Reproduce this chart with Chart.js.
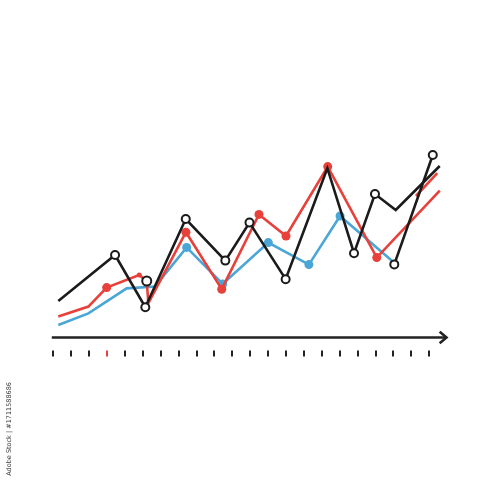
<!DOCTYPE html>
<html>
<head>
<meta charset="utf-8">
<script src="https://cdn.jsdelivr.net/npm/chart.js@4/dist/chart.umd.min.js"></script>
<style>
  html, body { margin: 0; padding: 0; background: #ffffff; }
  #wrap { width: 500px; height: 500px; }
</style>
</head>
<body>
<div id="wrap"><canvas id="chart"></canvas></div>
<script>
// Series data (x in tick units, y in chart units 0-100)
const blueX = [0.28, 1.96, 4.1, 5.68, 7.45, 9.46, 12.01, 14.28, 16.02, 18.9];
const blueY = [6.5, 12.3, 24.8, 25.7, 45.3, 27, 47.7, 36.7, 61, 38.7];

const redX = [0.28, 1.96, 2.98, 4.8, 5.22, 5.31, 7.41, 9.41, 11.49, 13.0, 15.33, 18.07, 21.59];
const redY = [10.7, 15.7, 25.2, 31.5, 28.5, 17.4, 52.9, 24.4, 61.8, 51, 85.7, 40.2, 73.7];

const blackX = [0.28, 3.45, 5.14, 7.4, 9.61, 10.96, 12.98, 15.31, 16.8, 17.97, 19.13, 21.59];
const blackY = [18.5, 41.5, 15.4, 59.5, 38.7, 57.7, 29.4, 84.9, 42.4, 72, 64, 86];

const jumpX = [19.05, 21.2];
const jumpY = [36.8, 91.5];

const redTailX = [20.26, 21.45];
const redTailY = [71, 82.4];

// Axis tick positions below the arrow
const tickValues = [0, 1, 2, 3, 4, 5, 6, 7, 8, 9, 10, 11, 12, 13, 14, 15, 16, 17, 18, 19, 20, 21];
const highlightTick = 3;

const credit = 'Adobe Stock | #1711588686';

const BLUE = '#4aa6d6';
const RED = '#e8403a';
const BLACK = '#1b1b1b';

function toPoints(xs, ys) {
    return xs.map((x, i) => ({ x: x, y: ys[i] }));
}

// which points carry a marker
const blueMarks = new Set([4, 5, 6, 7, 8]);
const redMarks = new Set([2, 3, 4, 6, 7, 8, 9, 10, 11]);
const blackMarks = new Set([1, 2, 3, 4, 5, 6, 8, 9]);

// Arrow axis + tick marks + credit text
const axisPlugin = {
    id: 'axisArrow',
    afterDraw(chart) {
        const ctx = chart.ctx;
        const xs = chart.scales.x;
        const area = chart.chartArea;
        const yLine = area.bottom - 0.5;
        const xStart = area.left - 1.5;
        const xEnd = area.right - 0.5;

        ctx.save();
        ctx.strokeStyle = '#222222';
        ctx.lineWidth = 2.5;
        ctx.beginPath();
        ctx.moveTo(xStart, yLine);
        ctx.lineTo(xEnd - 1, yLine);
        ctx.stroke();

        ctx.lineCap = 'square';
        ctx.lineJoin = 'miter';
        ctx.beginPath();
        ctx.moveTo(xEnd - 6, yLine - 5);
        ctx.lineTo(xEnd, yLine);
        ctx.lineTo(xEnd - 6, yLine + 5);
        ctx.stroke();

        tickValues.forEach(v => {
            const px = Math.round(xs.getPixelForValue(v));
            ctx.fillStyle = v === highlightTick ? RED : '#222222';
            ctx.fillRect(px - 1, yLine + 13, 2, 6);
        });

        ctx.translate(9, 382);
        ctx.rotate(-Math.PI / 2);
        ctx.fillStyle = '#3a3a3a';
        ctx.font = '6.5px "DejaVu Sans", sans-serif';
        ctx.textAlign = 'right';
        ctx.textBaseline = 'middle';
        ctx.fillText(credit, 0, 0);
        ctx.restore();
    }
};

const ctx = document.getElementById('chart').getContext('2d');

new Chart(ctx, {
    type: 'line',
    data: {
        datasets: [
            {
                label: 'black',
                data: toPoints(blackX, blackY),
                borderColor: BLACK,
                borderWidth: 2.6,
                pointRadius: c => blackMarks.has(c.dataIndex) ? 4 : 0,
                pointBackgroundColor: '#ffffff',
                pointBorderColor: BLACK,
                pointBorderWidth: 2,
                tension: 0,
                clip: false,
                order: 1
            },
            {
                label: 'jump',
                data: toPoints(jumpX, jumpY),
                borderColor: BLACK,
                borderWidth: 2.6,
                pointRadius: 4,
                pointBackgroundColor: '#ffffff',
                pointBorderColor: BLACK,
                pointBorderWidth: 2,
                tension: 0,
                clip: false,
                order: 0
            },
            {
                label: 'red',
                data: toPoints(redX, redY),
                borderColor: RED,
                borderWidth: 2.6,
                pointRadius: c => {
                    if (!redMarks.has(c.dataIndex)) return 0;
                    if (c.dataIndex === 3) return 2.5;
                    return 4.5;
                },
                pointBackgroundColor: c => c.dataIndex === 4 ? '#ffffff' : RED,
                pointBorderColor: c => c.dataIndex === 4 ? BLACK : RED,
                pointBorderWidth: c => c.dataIndex === 4 ? 2 : 0,
                tension: 0,
                clip: false,
                order: 2
            },
            {
                label: 'redTail',
                data: toPoints(redTailX, redTailY),
                borderColor: RED,
                borderWidth: 2.6,
                pointRadius: 0,
                tension: 0,
                clip: false,
                order: 2
            },
            {
                label: 'blue',
                data: toPoints(blueX, blueY),
                borderColor: BLUE,
                borderWidth: 2.6,
                pointRadius: c => blueMarks.has(c.dataIndex) ? 4.5 : 0,
                pointBackgroundColor: BLUE,
                pointBorderWidth: 0,
                tension: 0,
                clip: false,
                order: 3
            }
        ]
    },
    options: {
        responsive: true,
        maintainAspectRatio: false,
        animation: false,
        layout: {
            padding: { left: 53.3, right: 52.9, top: 138, bottom: 162 }
        },
        plugins: {
            legend: { display: false },
            tooltip: { enabled: false }
        },
        scales: {
            x: { type: 'linear', min: 0, max: 22, display: false },
            y: { type: 'linear', min: 0, max: 100, display: false }
        }
    },
    plugins: [axisPlugin]
});
</script>
</body>
</html>
